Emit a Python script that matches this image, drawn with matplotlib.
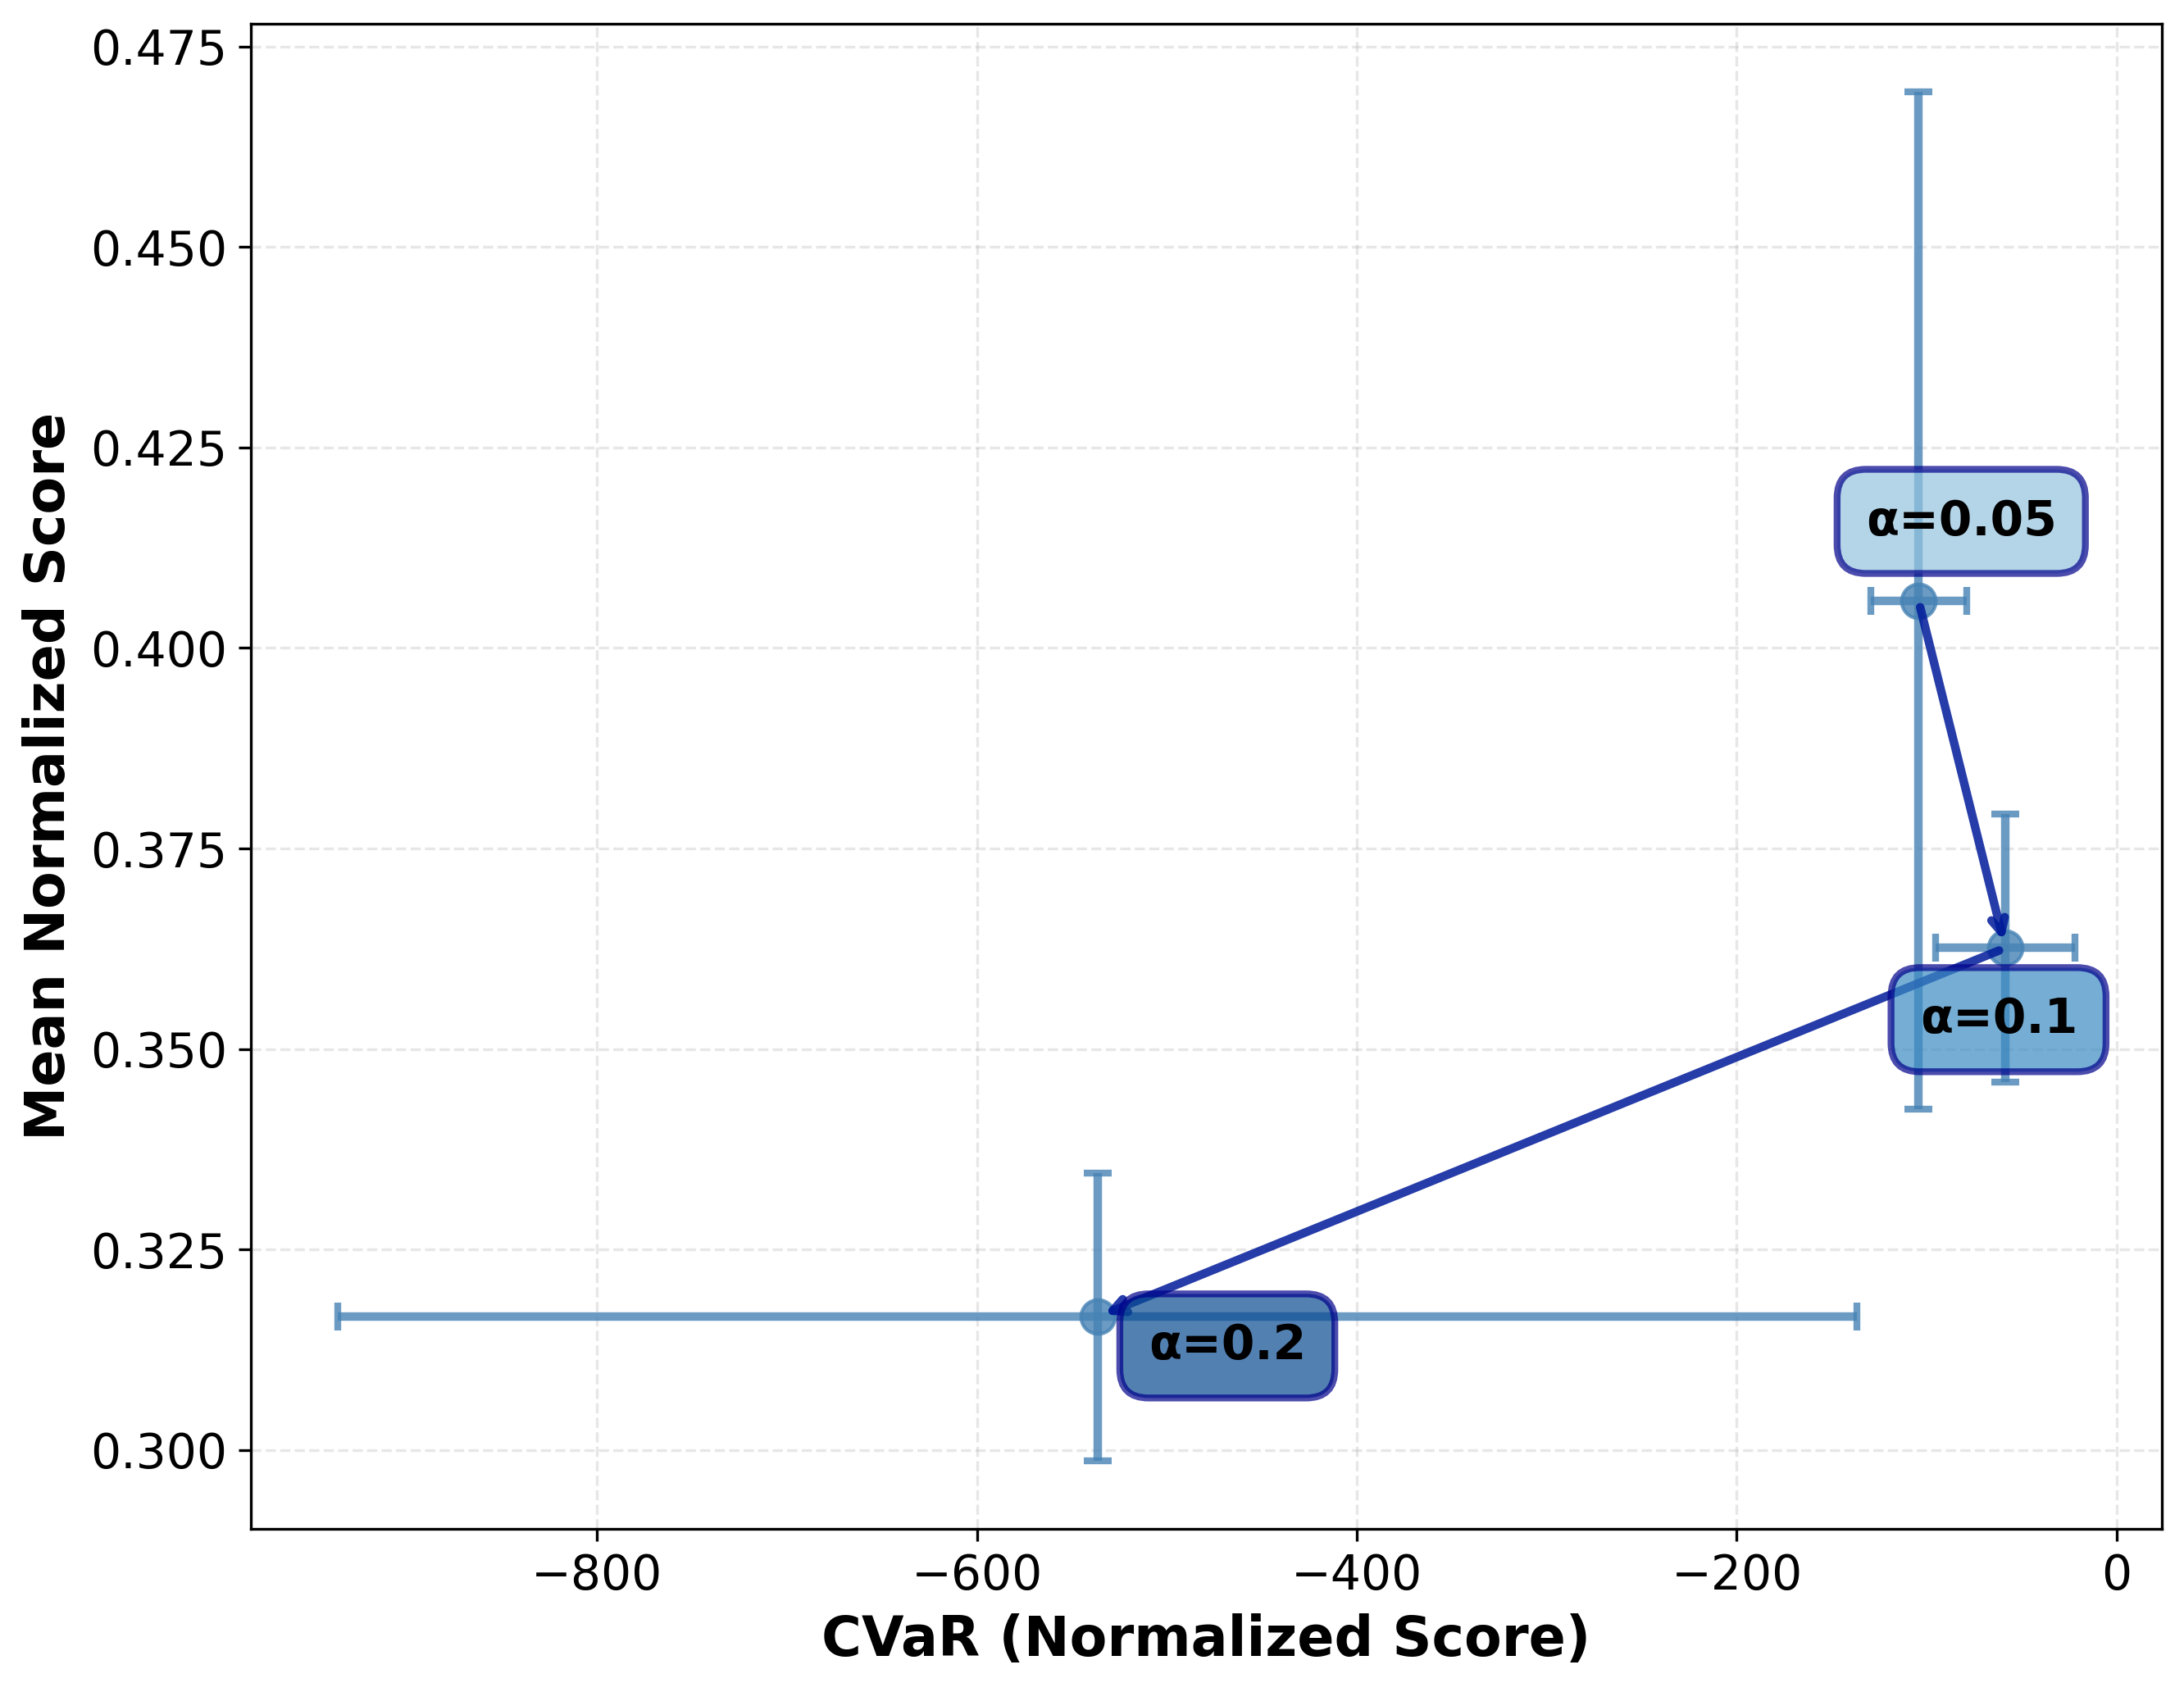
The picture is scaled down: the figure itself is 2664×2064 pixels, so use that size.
import numpy as np
import matplotlib
matplotlib.use("Agg")
import matplotlib.pyplot as plt

# data
alphas = [0.05, 0.1, 0.2]
cvar_mean = [-104.3, -58.6, -536.5]
cvar_err = [25.3, 36.7, 399.9]
score_mean = [0.4059, 0.3626, 0.3166]
score_err = [0.0634, 0.0167, 0.0179]
label_offsets = [(12.5, 23.2), (-2, -21), (38, -8.5)]   # offset points of the labels

box_colors = plt.cm.Blues(np.linspace(0.4, 0.9, len(alphas)))

fig = plt.figure(figsize=(8.88, 6.88), dpi=300)
ax = fig.add_axes([0.1149, 0.0964, 0.875, 0.8896])

ax.errorbar(cvar_mean, score_mean, xerr=cvar_err, yerr=score_err, fmt='o',
            color='steelblue', markersize=10, capsize=4, capthick=2,
            elinewidth=2.5, alpha=0.8)

# arrows between consecutive alpha values
for i in range(len(alphas) - 1):
    ax.annotate('', xy=(cvar_mean[i + 1], score_mean[i + 1]),
                xytext=(cvar_mean[i], score_mean[i]),
                arrowprops=dict(arrowstyle='->', color='#001a99', lw=2.5, alpha=0.85))

for i, a in enumerate(alphas):
    ax.annotate(f'α={a}', (cvar_mean[i], score_mean[i]), xytext=label_offsets[i],
                textcoords='offset points', ha='center', va='center',
                fontsize=14, fontweight='bold',
                bbox=dict(boxstyle='round,pad=0.6', facecolor=box_colors[i],
                          edgecolor='darkblue', alpha=0.7, linewidth=2))

ax.set_xlabel('CVaR (Normalized Score)', fontsize=16, fontweight='bold')
ax.set_ylabel('Mean Normalized Score', fontsize=16, fontweight='bold')
ax.tick_params(labelsize=14)
ax.grid(True, linestyle='--', alpha=0.3)

fig.savefig('out.png', dpi=300)
